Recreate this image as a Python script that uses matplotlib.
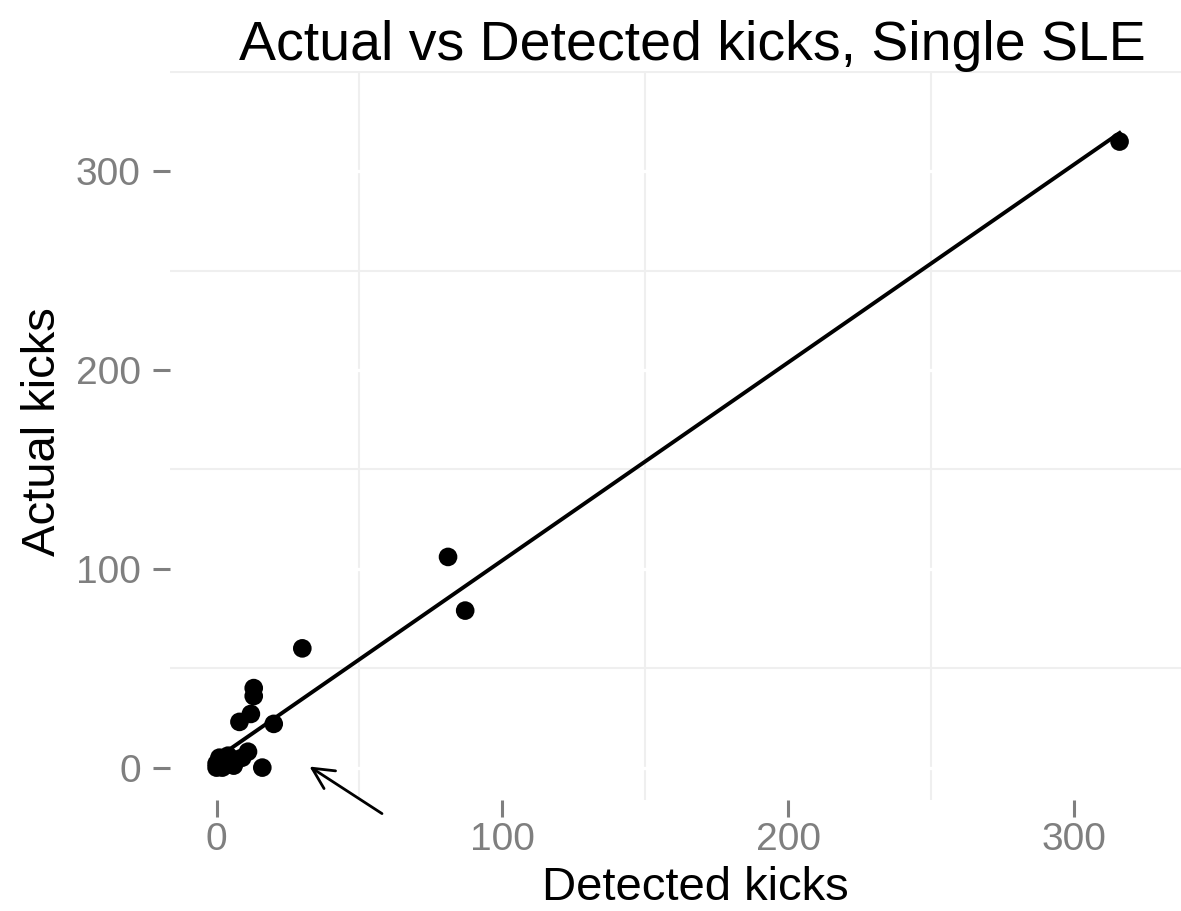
import numpy as np
from matplotlib import pyplot as plt
from matplotlib.ticker import MultipleLocator

plt.rcParams['font.family'] = ['Liberation Sans', 'DejaVu Sans']

# values
detected = [316, 81, 87, 30, 13, 13, 12, 8, 20, 16, 11, 9, 7, 5, 4, 3, 2, 1, 0, 6, 2, 0]
actual = [315, 106, 79, 60, 40, 36, 27, 23, 22, 0, 8, 5, 4, 3, 6, 1, 0, 5, 2, 1, 3, 0]
ticks = [0, 100, 200, 300]
title = "Actual vs Detected kicks, Single SLE"

x = np.array(detected, dtype=float)
y = np.array(actual, dtype=float)

fig = plt.figure(figsize=(11.81, 9.11), dpi=100)
ax = fig.add_axes([170 / 1181, 111 / 911, 1011 / 1181, 729 / 911])

# linear fit over the range of the data
slope, icept = np.polyfit(x, y, 1)
xs = np.array([x.min(), x.max()])
ax.plot(xs, icept + slope * xs, color='black', linewidth=2.8, zorder=3)
ax.scatter(x, y, s=180, color='black', edgecolors='none', zorder=4)

ax.annotate('', xy=(31.7, 1.3), xytext=(58.7, -23.9), xycoords='data',
            arrowprops=dict(arrowstyle='->', color='black', lw=2.0,
                            mutation_scale=38), annotation_clip=False)

ax.set_xlim(-16.3, 337.5)
ax.set_ylim(-16.3, 350.5)
ax.set_xticks(ticks)
ax.set_yticks(ticks)
ax.xaxis.set_minor_locator(MultipleLocator(50))
ax.yaxis.set_minor_locator(MultipleLocator(50))

# light minor grid, white major grid on top
ax.grid(which='minor', color='#efefef', linewidth=1.5)
ax.grid(which='major', color='white', linewidth=2.4)
ax.set_axisbelow(True)

for s in ax.spines.values():
    s.set_visible(False)

ax.tick_params(which='major', length=12, width=2.2, color='#7f7f7f',
               labelcolor='#7f7f7f', labelsize=28)
ax.tick_params(axis='y', pad=9)
ax.tick_params(axis='x', pad=4)
ax.tick_params(which='minor', length=0)

fig.text(692 / 1181, 1 - 60 / 911, title, fontsize=40, ha='center',
         va='baseline')
fig.text(695 / 1181, 1 / 911, "Detected kicks", fontsize=34,
         ha='center', va='bottom')
fig.text(0.036, 1 - 432 / 911, "Actual kicks", fontsize=34, rotation=90,
         ha='center', va='center')

plt.savefig('out.png', dpi=100)
